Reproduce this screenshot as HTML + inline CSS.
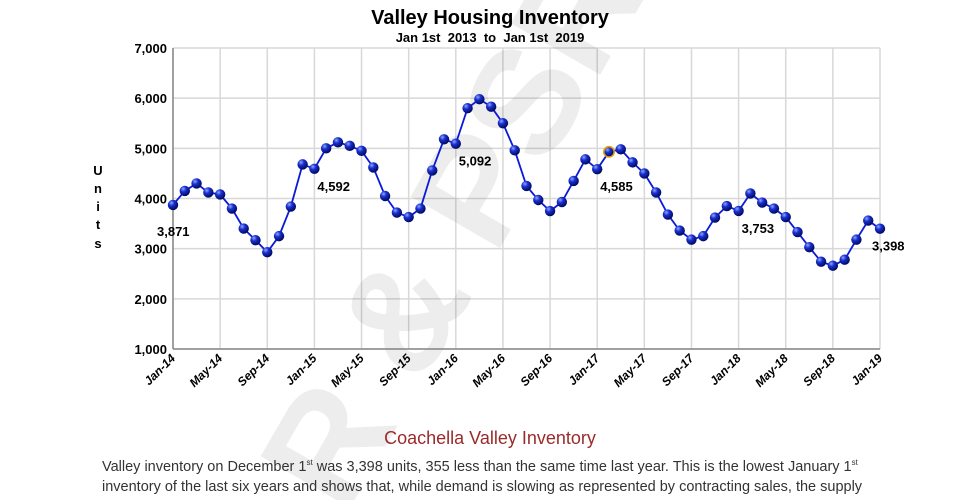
<!DOCTYPE html>
<html><head><meta charset="utf-8"><style>
html,body{margin:0;width:980px;height:500px;overflow:hidden;background:#fff;font-family:"Liberation Sans",Arial,sans-serif}
#wrap{position:relative;width:980px;height:500px;overflow:hidden}
.ln{position:absolute;left:102px;white-space:nowrap;font-size:14.5px;color:#333}
</style></head><body><div id="wrap">
<svg width="980" height="500" style="position:absolute;left:0;top:0">
<defs><radialGradient id="ball" cx="35%" cy="30%" r="70%"><stop offset="0" stop-color="#8fa8ff"/><stop offset="0.4" stop-color="#1a2fd0"/><stop offset="1" stop-color="#000a60"/></radialGradient></defs>
<g id="grid"></g><g id="wm"></g><g id="ax"></g><g id="series"></g>
<text x="490" y="24" text-anchor="middle" font-size="20" font-weight="bold" fill="#000">Valley Housing Inventory</text>
<text x="490" y="42" text-anchor="middle" font-size="13" font-weight="bold" fill="#000" xml:space="preserve">Jan 1st  2013  to  Jan 1st  2019</text>
<g font-size="13" font-weight="bold" text-anchor="middle">
<text x="98" y="175">U</text><text x="98" y="193">n</text><text x="98" y="211">i</text><text x="98" y="229">t</text><text x="98" y="248">s</text></g>
</svg>
<div style="position:absolute;left:0;width:980px;top:428px;text-align:center;font-size:18px;color:#9b2a2a">Coachella Valley Inventory</div>
<div class="ln" style="top:458px">Valley inventory on December 1<sup style="font-size:8px">st</sup> was 3,398 units, 355 less than the same time last year. This is the lowest January 1<sup style="font-size:8px">st</sup></div>
<div class="ln" style="top:479px">inventory of the last six years and shows that, while demand is slowing as represented by contracting sales, the supply</div>
<script>
const values=[3871,4150,4300,4120,4080,3800,3400,3170,2930,3250,3840,4680,4592,5000,5120,5050,4950,4620,4050,3720,3630,3800,4560,5180,5092,5800,5980,5830,5500,4960,4250,3970,3750,3930,4350,4780,4585,4930,4980,4720,4500,4120,3680,3360,3180,3250,3620,3850,3753,4100,3920,3800,3630,3330,3030,2740,2660,2780,3180,3560,3398];
const tickLabels=["Jan-14","May-14","Sep-14","Jan-15","May-15","Sep-15","Jan-16","May-16","Sep-16","Jan-17","May-17","Sep-17","Jan-18","May-18","Sep-18","Jan-19"];
const yTicks=[1000,2000,3000,4000,5000,6000,7000];
const labelIdx=[0,12,24,36,48,60];
const NS="http://www.w3.org/2000/svg";
const X0=173,X1=880,Y0=349,Y1=48;
const x=i=>X0+(X1-X0)*i/(values.length-1);
const y=v=>Y0-(Y0-Y1)*(v-1000)/6000;
function mk(t,a,p){const e=document.createElementNS(NS,t);for(const k in a)e.setAttribute(k,a[k]);p.appendChild(e);return e;}
const grid=document.getElementById('grid'),ax=document.getElementById('ax'),se=document.getElementById('series'),wm=document.getElementById('wm');
yTicks.forEach(v=>{
 const l=mk('line',{x1:X0,x2:X1,y1:y(v),y2:y(v),stroke:'#d8d8d8','stroke-width':1.5},grid);
 
 
 const t=mk('text',{x:X0-6,y:y(v)+5,'text-anchor':'end','font-size':13,'font-weight':'bold'},ax);t.textContent=v.toLocaleString('en-US');
 
 
});
tickLabels.forEach((s,k)=>{
 const xx=x(k*4);
 const l=mk('line',{x1:xx,x2:xx,y1:Y1,y2:Y0,stroke:'#d8d8d8','stroke-width':1.5},grid);
 
 
 const t=mk('text',{x:xx+3,y:Y0+10,'text-anchor':'end','font-size':12,'font-weight':'bold','font-style':'italic',transform:`rotate(-45 ${xx+3} ${Y0+10})`},ax);t.textContent=s;
 
 
});
const wt=mk('text',{x:470,y:300,'text-anchor':'middle','font-size':150,'font-weight':'bold',fill:'#000','fill-opacity':0.07,transform:'rotate(-60 470 300)'},wm);wt.textContent='CDAR & PSRAR';


const xa=mk('line',{x1:X0,x2:X1,y1:Y0,y2:Y0,stroke:'#888','stroke-width':1.5},ax);


const ya=mk('line',{x1:X0,x2:X0,y1:Y1,y2:Y0,stroke:'#888','stroke-width':1.5},ax);


const ln=mk('polyline',{points:values.map((v,i)=>x(i)+','+y(v)).join(' '),fill:'none',stroke:'#0a1ad8','stroke-width':1.8},se);


values.forEach((v,i)=>{
 const c=mk('circle',{cx:x(i),cy:y(v),r:5.2,fill:'url(#ball)',stroke:i==37?'#e0a000':'none','stroke-width':1.5},se);
 
 
});
labelIdx.forEach(i=>{
 const t=mk('text',{x:x(i)+(i==0?-16:3),y:y(values[i])+(i==0?31:22),'font-size':13,'font-weight':'bold'},se);
 if(i==60)t.setAttribute('x',x(i)-8);
 t.textContent=values[i].toLocaleString('en-US');
 
 
});
</script>
</div></body></html>
